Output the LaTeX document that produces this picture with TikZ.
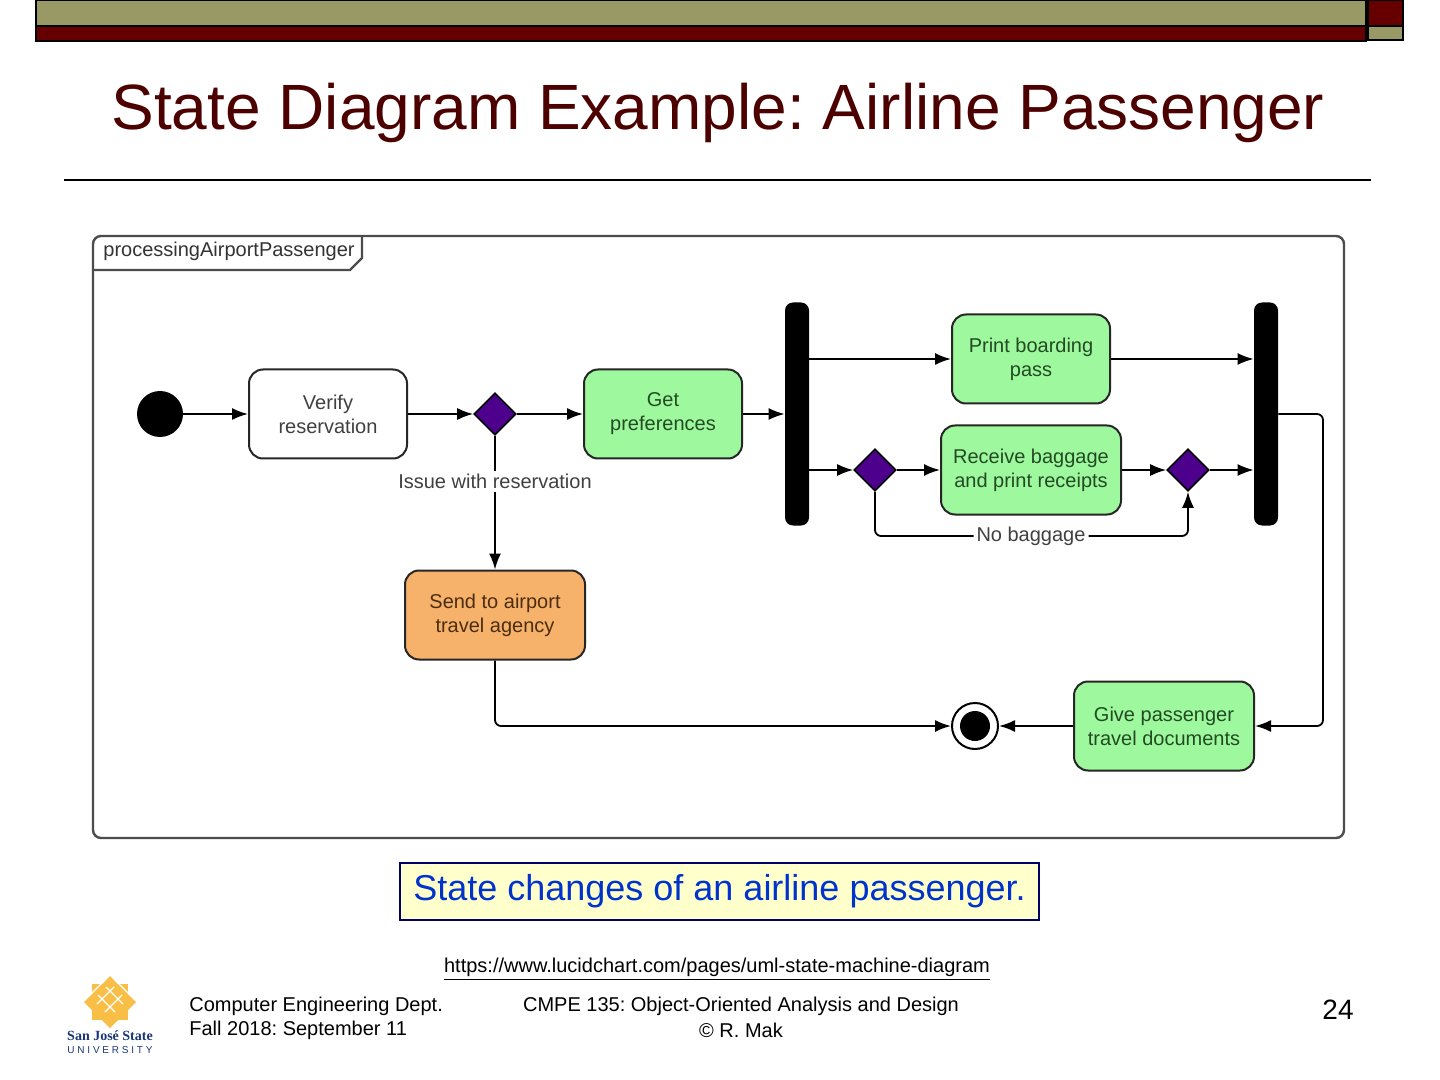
\documentclass[tikz,border=0pt]{standalone}
\usepackage{fontspec}
\setmainfont{Liberation Sans}
\newfontfamily\logofont{Liberation Serif}
\frenchspacing
\usetikzlibrary{positioning,shapes.geometric,arrows.meta}
\definecolor{sjolive}{RGB}{153,153,102}
\definecolor{sjmaroon}{RGB}{102,0,0}
\definecolor{titlered}{RGB}{77,0,0}
\definecolor{stategreen}{RGB}{158,248,158}
\definecolor{greentext}{RGB}{35,75,35}
\definecolor{stateorange}{RGB}{246,178,107}
\definecolor{orangetext}{RGB}{75,45,15}
\definecolor{choicepurple}{RGB}{76,0,140}
\definecolor{capyellow}{RGB}{255,255,204}
\definecolor{capblue}{RGB}{0,51,204}
\definecolor{capborder}{RGB}{0,0,102}
\definecolor{sjgold}{RGB}{248,190,70}
\definecolor{sjblue}{RGB}{25,55,120}
\tikzset{
  state/.style={draw=black!85, line width=1pt, rounded corners=7pt, minimum width=79pt, minimum height=44.5pt,
    align=center, font=\fontsize{10}{12}\selectfont, text=black!75, fill=white},
  greenstate/.style={state, fill=stategreen, text=greentext},
  widestate/.style={minimum width=90pt},
  choice/.style={diamond, draw=black, line width=0.8pt, fill=choicepurple, minimum width=21pt, minimum height=21pt, inner sep=0pt},
  syncbar/.style={fill=black, rounded corners=4pt, minimum width=12pt, minimum height=111.5pt, inner sep=0pt},
  flow/.style={line width=0.9pt, -{Latex[length=8pt,width=6pt]}},
  guard/.style={fill=white, inner sep=1.5pt, font=\fontsize{10}{12}\selectfont, text=black!75},
  foot/.style={font=\fontsize{10}{12}\selectfont, inner sep=0pt}
}
\begin{document}
\begin{tikzpicture}[x=0.5pt, y=-0.5pt]
  \useasboundingbox (0,0) rectangle (1440,1080);
  \fill[white] (0,0) rectangle (1440,1080);

  \draw[line width=1pt, fill=sjolive] (36,0) rectangle (1366,26);
  \draw[line width=1pt, fill=sjmaroon] (36,26) rectangle (1366,41);
  \draw[line width=1pt, fill=sjmaroon] (1368,0) rectangle (1403,26);
  \draw[line width=1pt, fill=sjolive] (1368,26) rectangle (1403,40);

  \node[text=titlered, font=\fontsize{32}{38}\selectfont] (title) at (718,113) {State Diagram Example: Airline Passenger};
  \draw[line width=1pt] (64,180) -- (1371,180);

  \draw[draw=black!70, line width=1.2pt, rounded corners=4pt] (93,236) rectangle (1344,838);
  \draw[draw=black!70, line width=1.2pt] (93,270) -- (350,270) -- (362,258) -- (362,236);
  \node[anchor=west, inner sep=0pt, font=\fontsize{10}{12}\selectfont, text=black!80] (frametag) at (103,251) {processingAirportPassenger};

  \node[circle, fill=black, minimum size=23pt, inner sep=0pt] (start) at (160,414) {};
  \node[state] (verify) at (328,414) {Verify\\reservation};
  \node[choice] (issue) at (495,414) {};
  \node[greenstate] (prefs) at (663,414) {Get\\preferences};
  \node[syncbar] (fork) at (797,414) {};
  \node[greenstate] (boarding) at (1031,359) {Print boarding\\pass};
  \node[choice] (bagin) at (875,470) {};
  \node[greenstate, widestate] (baggage) at (1031,470) {Receive baggage\\and print receipts};
  \node[choice] (bagout) at (1188,470) {};
  \node[syncbar] (join) at (1266,414) {};
  \node[state, widestate, fill=stateorange, text=orangetext] (agency) at (495,615) {Send to airport\\travel agency};
  \node[greenstate, widestate] (documents) at (1164,726) {Give passenger\\travel documents};
  \node[circle, draw=black, line width=1pt, fill=white, minimum size=23pt, inner sep=0pt,
    path picture={\fill[black] (path picture bounding box.center) circle (7.5pt);}] (finish) at (975,726) {};
  \coordinate (nobag) at (1031,536);
  \coordinate (turn) at (1323,726);

  \draw[flow] (start) -- (verify);
  \draw[flow] (verify) -- (issue);
  \draw[flow] (issue) -- (prefs);
  \draw[flow] (prefs.east) -- (prefs.east -| fork.west);
  \draw[flow] (fork.east |- boarding.west) -- (boarding.west);
  \draw[flow] (boarding.east) -- (boarding.east -| join.west);
  \draw[flow] (fork.east |- bagin.west) -- (bagin.west);
  \draw[flow] (bagin) -- (baggage);
  \draw[flow] (baggage) -- (bagout);
  \draw[flow] (bagout.east) -- (bagout.east -| join.west);
  \draw[flow, rounded corners=3pt] (bagin.south) |- (nobag) node[guard] {No baggage} -| (bagout.south);
  \draw[flow] (issue.south) -- node[guard, pos=0.34] {Issue with reservation} (agency.north);
  \draw[flow, rounded corners=3pt] (join.east |- prefs.east) -| (turn) -- (documents.east);
  \draw[flow] (documents.west) -- (finish.east);
  \draw[flow, rounded corners=3pt] (agency.south) |- (finish.west);

  \node[draw=capborder, line width=0.8pt, fill=capyellow, text=capblue, minimum width=319.5pt, minimum height=28.5pt,
    font=\fontsize{18}{22}\selectfont] (caption) at (719.5,891.5) {State changes of an airline passenger.};

  \node[foot] (source) at (717,969) {\underline{https://www.lucidchart.com/pages/uml-state-machine-diagram}};
  \node[foot, anchor=west] (dept) at (189,1006) {Computer Engineering Dept.};
  \node[foot, anchor=west] (term) at (189,1030) {Fall 2018: September 11};
  \node[foot] (course) at (741,1006) {CMPE 135: Object-Oriented Analysis and Design};
  \node[foot] (author) at (741,1030) {© R. Mak};
  \node[font=\fontsize{14}{16}\selectfont, inner sep=0pt] (page) at (1338,1010) {24};

  \fill[sjgold] (110,976) -- (136,1002) -- (110,1028) -- (84,1002) -- cycle;
  \fill[sjgold] (92,984) rectangle (128,1020);
  \foreach \d in {-12,-4,4,12} {
    \draw[white, line width=0.6pt] (110+\d,983+\d) -- +(-17,17);
    \draw[white, line width=0.6pt] (110-\d,983+\d) -- +(17,17);
  }
  \node[text=sjblue, font=\logofont\bfseries\fontsize{7}{8}\selectfont, inner sep=0pt] (sjsu) at (110,1036) {San José State};
  \node[text=sjblue, font=\fontsize{5}{6}\selectfont, inner sep=0pt] (univ) at (110,1050) {U N I V E R S I T Y};
\end{tikzpicture}
\end{document}
